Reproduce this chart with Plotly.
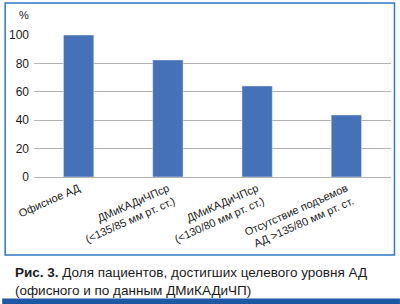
import plotly.graph_objects as go

categories = [
    "Офисное АД",
    "ДМиКАДиЧПср<br>(<135/85 мм рт. ст.)",
    "ДМиКАДиЧПср<br>(<130/80 мм рт. ст.)",
    "Отсутствие подъемов<br>АД >135/80 мм рт. ст.",
]
values = [100, 82.4, 64.1, 43.7]
y_ticks = [0, 20, 40, 60, 80, 100]

W, H = 400, 304
L, R, T, B = 32, 391, 35, 177  # plot area pixel bounds


def px(x):
    return (x - L) / (R - L)


def py(y):
    return (B - y) / (B - T)


fig = go.Figure(
    go.Bar(x=categories, y=values, marker_color="#4571b9", width=0.34)
)

fig.update_layout(
    width=W,
    height=H,
    margin=dict(l=L, r=W - R, t=T, b=H - B, pad=0),
    paper_bgcolor="white",
    plot_bgcolor="white",
    showlegend=False,
    font=dict(family="Liberation Sans Narrow, Liberation Sans, Arial", color="#1a1a1a"),
    bargap=0.66,
)
fig.update_yaxes(
    range=[0, 100],
    tickvals=y_ticks,
    showgrid=True,
    gridcolor="#b3b3b3",
    gridwidth=1,
    zeroline=False,
    showline=False,
    ticks="",
    ticklabelstandoff=4,
    tickfont=dict(size=12, family="Liberation Sans, Arial"),
)
fig.update_xaxes(
    showline=True,
    linecolor="#b3b3b3",
    linewidth=1,
    ticks="",
    tickangle=-24,
    tickfont=dict(size=11),
)

# % label
fig.add_annotation(
    text="%", xref="paper", yref="paper", x=px(22), y=py(15),
    showarrow=False, xanchor="center", yanchor="middle",
    font=dict(size=11, family="Liberation Sans, Arial"),
)

# outer blue frame
fig.add_shape(
    type="rect", xref="paper", yref="paper",
    x0=px(3), x1=px(394.5), y0=py(255), y1=py(3),
    line=dict(color="#2b7ac6", width=1.5), fillcolor="rgba(0,0,0,0)", layer="below",
)
# bottom dark blue bar
fig.add_shape(
    type="rect", xref="paper", yref="paper",
    x0=px(0), x1=px(400), y0=py(304), y1=py(298.5),
    line=dict(width=0), fillcolor="#1d58a5",
)

# caption
fig.add_annotation(
    text="<b>Рис. 3.</b> Доля пациентов, достигших целевого уровня АД<br>(офисного и по данным ДМиКАДиЧП)",
    xref="paper", yref="paper", x=px(11), y=py(263),
    showarrow=False, xanchor="left", yanchor="top", align="left",
    font=dict(size=13.5, family="Liberation Sans, Arial", color="#1a1a1a"),
)

fig.write_html("out.html")
